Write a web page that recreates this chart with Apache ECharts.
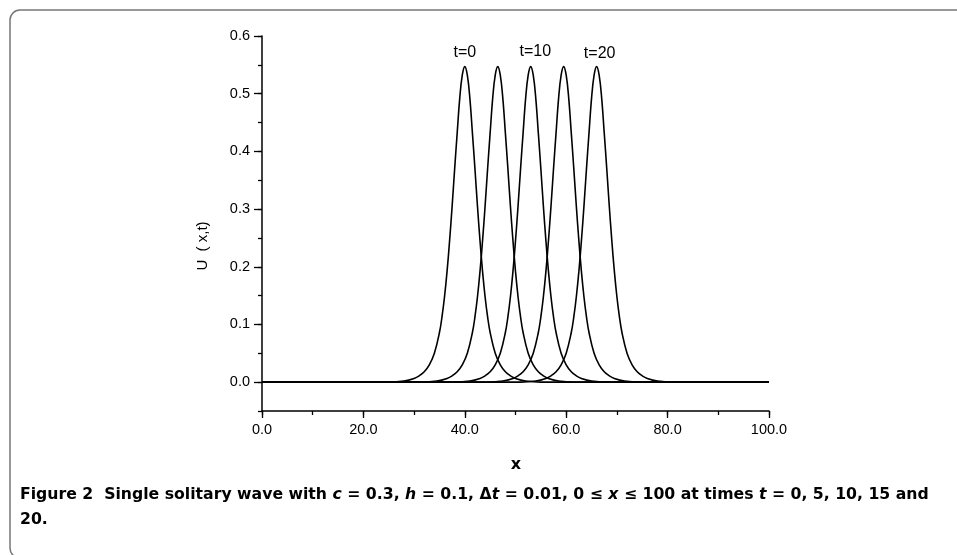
<!DOCTYPE html>
<html>
<head>
<meta charset="utf-8">
<script src="https://cdn.jsdelivr.net/npm/echarts@6/dist/echarts.min.js"></script>
<style>
html,body{margin:0;padding:0;background:#fff;}
#chart{width:957px;height:555px;}
</style>
</head>
<body>
<div id="chart"></div>
<script>
// ---- data ----
const xTicks = [0, 20, 40, 60, 80, 100];
const yTicks = [0, 0.1, 0.2, 0.3, 0.4, 0.5, 0.6];

const x_t0  = [0,25,28,30,31,32,33,34,35,35.5,36,36.5,37,37.5,38,38.5,39,39.5,40,40.5,41,41.5,42,42.5,43,43.5,44,44.5,45,46,47,48,49,50,52,55,100];
const u_t0  = [0,0,0.002,0.0065,0.011,0.018,0.030,0.050,0.086,0.113,0.148,0.192,0.245,0.305,0.370,0.432,0.492,0.532,0.547,0.532,0.492,0.432,0.370,0.305,0.245,0.192,0.148,0.113,0.086,0.050,0.030,0.018,0.011,0.0065,0.002,0,0];

const x_t5  = [0,31.5,34.5,36.5,37.5,38.5,39.5,40.5,41.5,42,42.5,43,43.5,44,44.5,45,45.5,46,46.5,47,47.5,48,48.5,49,49.5,50,50.5,51,51.5,52.5,53.5,54.5,55.5,56.5,58.5,61.5,100];
const u_t5  = [0,0,0.002,0.0065,0.011,0.018,0.030,0.050,0.086,0.113,0.148,0.192,0.245,0.305,0.370,0.432,0.492,0.532,0.547,0.532,0.492,0.432,0.370,0.305,0.245,0.192,0.148,0.113,0.086,0.050,0.030,0.018,0.011,0.0065,0.002,0,0];

const x_t10 = [0,38,41,43,44,45,46,47,48,48.5,49,49.5,50,50.5,51,51.5,52,52.5,53,53.5,54,54.5,55,55.5,56,56.5,57,57.5,58,59,60,61,62,63,65,68,100];
const u_t10 = [0,0,0.002,0.0065,0.011,0.018,0.030,0.050,0.086,0.113,0.148,0.192,0.245,0.305,0.370,0.432,0.492,0.532,0.547,0.532,0.492,0.432,0.370,0.305,0.245,0.192,0.148,0.113,0.086,0.050,0.030,0.018,0.011,0.0065,0.002,0,0];

const x_t15 = [0,44.5,47.5,49.5,50.5,51.5,52.5,53.5,54.5,55,55.5,56,56.5,57,57.5,58,58.5,59,59.5,60,60.5,61,61.5,62,62.5,63,63.5,64,64.5,65.5,66.5,67.5,68.5,69.5,71.5,74.5,100];
const u_t15 = [0,0,0.002,0.0065,0.011,0.018,0.030,0.050,0.086,0.113,0.148,0.192,0.245,0.305,0.370,0.432,0.492,0.532,0.547,0.532,0.492,0.432,0.370,0.305,0.245,0.192,0.148,0.113,0.086,0.050,0.030,0.018,0.011,0.0065,0.002,0,0];

const x_t20 = [0,51,54,56,57,58,59,60,61,61.5,62,62.5,63,63.5,64,64.5,65,65.5,66,66.5,67,67.5,68,68.5,69,69.5,70,70.5,71,72,73,74,75,76,78,81,100];
const u_t20 = [0,0,0.002,0.0065,0.011,0.018,0.030,0.050,0.086,0.113,0.148,0.192,0.245,0.305,0.370,0.432,0.492,0.532,0.547,0.532,0.492,0.432,0.370,0.305,0.245,0.192,0.148,0.113,0.086,0.050,0.030,0.018,0.011,0.0065,0.002,0,0];

const curveNames = ['t=0', 't=5', 't=10', 't=15', 't=20'];
const curveX = [x_t0, x_t5, x_t10, x_t15, x_t20];
const curveU = [u_t0, u_t5, u_t10, u_t15, u_t20];

// annotation labels (data coordinates)
const annText = ['t=0', 't=10', 't=20'];
const annX = [40.0, 53.9, 66.6];
const annY = [0.572, 0.573, 0.569];

// ---- chart ----
const FONT = '"Liberation Sans", Arial, sans-serif';
const chart = echarts.init(document.getElementById('chart'), null, {renderer: 'canvas'});

const series = curveNames.map((n, i) => ({
  name: n,
  type: 'line',
  xAxisIndex: 0,
  yAxisIndex: 0,
  data: curveX[i].map((x, j) => [x, curveU[i][j]]),
  symbol: 'none',
  smooth: 0.4,
  lineStyle: {color: '#000', width: 1.6},
  silent: true,
  animation: false
}));

const option = {
  animation: false,
  grid: {left: 262, right: 188, top: 36, bottom: 144, containLabel: false},
  xAxis: [
    {
      type: 'value', min: 0, max: 100, interval: 20, position: 'bottom',
      axisLine: {show: true, onZero: false, lineStyle: {color: '#000', width: 1.5}},
      axisTick: {show: true, length: 7, lineStyle: {color: '#000', width: 1.3}},
      axisLabel: {show: true, margin: 11, color: '#000', fontSize: 14.5, fontFamily: FONT,
        formatter: v => v.toFixed(1)},
      splitLine: {show: false}
    },
    {
      type: 'value', min: 0, max: 100, interval: 10, position: 'bottom',
      axisLine: {show: false, onZero: false},
      axisTick: {show: true, length: 4, lineStyle: {color: '#000', width: 1.3}},
      axisLabel: {show: false},
      splitLine: {show: false}
    }
  ],
  yAxis: [
    {
      type: 'value', min: -0.05, max: 0.6, interval: 0.05, position: 'left',
      axisLine: {show: true, onZero: false, lineStyle: {color: '#000', width: 1.5}},
      axisTick: {show: true, length: 8, customValues: yTicks, lineStyle: {color: '#000', width: 1.3}},
      axisLabel: {show: true, margin: 12, color: '#000', fontSize: 14.5, fontFamily: FONT,
        customValues: yTicks, formatter: v => v.toFixed(1)},
      splitLine: {show: false}
    },
    {
      type: 'value', min: -0.05, max: 0.6, interval: 0.05, position: 'left',
      axisLine: {show: false, onZero: false},
      axisTick: {show: true, length: 4, lineStyle: {color: '#000', width: 1.3}},
      axisLabel: {show: false},
      splitLine: {show: false}
    }
  ],
  series: series
};
chart.setOption(option);

// graphics: frame, axis titles, annotations, caption
const ann = annText.map((t, i) => {
  const p = chart.convertToPixel({xAxisIndex: 0, yAxisIndex: 0}, [annX[i], annY[i]]);
  return {
    type: 'text', x: p[0], y: p[1], silent: true,
    style: {text: t, font: '16px ' + FONT, fill: '#000', align: 'center', verticalAlign: 'middle'}
  };
});

const capFont = '"DejaVu Sans", "Open Sans", sans-serif';
chart.setOption({
  graphic: [
    {type: 'rect', shape: {x: 10, y: 10, width: 980, height: 548, r: 10}, silent: true,
     style: {fill: 'none', stroke: '#777', lineWidth: 1.5}},
    {type: 'text', x: 203, y: 246, rotation: Math.PI / 2, silent: true,
     style: {text: 'U  ( x,t)', font: '15px ' + FONT, fill: '#000', align: 'center', verticalAlign: 'middle'}},
    {type: 'text', x: 516, y: 465, silent: true,
     style: {text: 'x', font: 'bold 16px ' + capFont, fill: '#000', align: 'center', verticalAlign: 'middle'}},
    ...ann,
    {type: 'text', x: 20, y: 503, silent: true,
     style: {
       text: '{b|Figure 2  Single solitary wave with }{i|c}{b| = 0.3, }{i|h}{b| = 0.1, }{b|Δ}{i|t}{b| = 0.01, 0 ≤ }{i|x}{b| ≤ 100 at times }{i|t}{b| = 0, 5, 10, 15 and}',
       verticalAlign: 'bottom',
       rich: {
         b: {font: 'bold 15.7px ' + capFont, fill: '#000'},
         i: {font: 'italic bold 15.7px ' + capFont, fill: '#000'}
       }
     }},
    {type: 'text', x: 20, y: 528, silent: true,
     style: {text: '20.', font: 'bold 15.7px ' + capFont, fill: '#000', verticalAlign: 'bottom'}}
  ]
});
</script>
</body>
</html>
